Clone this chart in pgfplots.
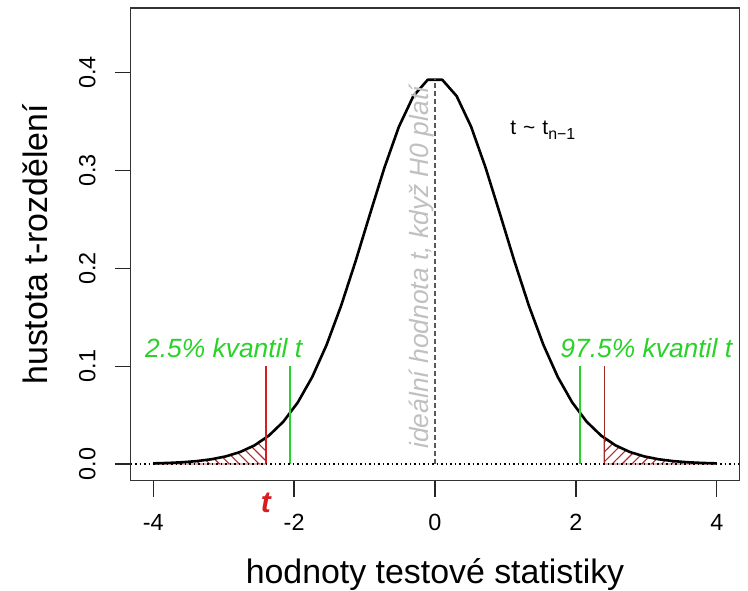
\documentclass[border=0pt]{standalone}
\usepackage{fontspec}
\setmainfont{Liberation Sans}
\usepackage{pgfplots}
\pgfplotsset{compat=1.18}
\usetikzlibrary{patterns.meta}
\definecolor{kvgreen}{RGB}{40,210,40}
\definecolor{tred}{RGB}{215,30,30}
\definecolor{tbrown}{RGB}{165,42,42}
\definecolor{hatch}{RGB}{175,45,45}
\definecolor{idealgray}{RGB}{192,192,192}
\begin{document}
\begin{tikzpicture}
\useasboundingbox (-130.7bp,-110.3bp) rectangle (617.3bp,480.7bp);
\begin{axis}[
  scale only axis,
  width=608.6bp, height=472.7bp,
  at={(0,0)}, anchor=south west,
  xmin=-4.32, xmax=4.32,
  ymin=-0.01707, ymax=0.46612,
  clip=false,
  axis line style={draw=black!80, line width=1.3bp},
  tick pos=left, tick align=outside,
  major tick length=16bp,
  tick style={black!85, line width=1.3bp},
  xtick={-4,-2,0,2,4}, xticklabels={-4,-2,0,2,4},
  ytick={0,0.1,0.2,0.3,0.4}, yticklabels={0.0,0.1,0.2,0.3,0.4},
  tick label style={font=\fontsize{23.5}{28}\selectfont, inner sep=0pt},
  xticklabel style={anchor=north},
  yticklabel style={rotate=90, anchor=south},
  xticklabel shift=17bp,
  yticklabel shift=19bp,
  xlabel={hodnoty testové statistiky},
  ylabel={hustota t-rozdělení},
  label style={font=\fontsize{34}{40}\selectfont, inner sep=0pt},
  xlabel style={at={(axis description cs:0.5,-0.2185)}, anchor=base},
  ylabel style={at={(axis description cs:-0.1375,0.5)}, anchor=base},
]

% hatched tails
\addplot[draw=hatch, line width=0.8bp,
  pattern={Lines[angle=-45, distance=7bp, line width=1.1bp]}, pattern color=hatch]
  coordinates {(-4,0) (-4,0.000636) (-3.794872,0.001067) (-3.589744,0.001776)
  (-3.384615,0.002930) (-3.179487,0.004779) (-2.974359,0.007692)
  (-2.769231,0.012192) (-2.564103,0.018984) (-2.4,0.026666) (-2.4,0)} -- cycle;
\addplot[draw=hatch, line width=0.8bp,
  pattern={Lines[angle=45, distance=7bp, line width=1.1bp]}, pattern color=hatch]
  coordinates {(2.4,0) (2.4,0.026666) (2.564103,0.018984) (2.769231,0.012192)
  (2.974359,0.007692) (3.179487,0.004779) (3.384615,0.002930)
  (3.589744,0.001776) (3.794872,0.001067) (4,0.000636) (4,0)} -- cycle;

% density of t with 25 df
\addplot[black, line width=2.6bp, line join=round] coordinates {
  (-4,0.000636) (-3.794872,0.001067) (-3.589744,0.001776) (-3.384615,0.002930)
  (-3.179487,0.004779) (-2.974359,0.007692) (-2.769231,0.012192) (-2.564103,0.018984)
  (-2.358974,0.028967) (-2.153846,0.043207) (-1.948718,0.062830) (-1.743590,0.088848)
  (-1.538462,0.121860) (-1.333333,0.161701) (-1.128205,0.207099) (-0.923077,0.255468)
  (-0.717949,0.302930) (-0.512821,0.344737) (-0.307692,0.376032) (-0.102564,0.392816)
  (0.102564,0.392816) (0.307692,0.376032) (0.512821,0.344737) (0.717949,0.302930)
  (0.923077,0.255468) (1.128205,0.207099) (1.333333,0.161701) (1.538462,0.121860)
  (1.743590,0.088848) (1.948718,0.062830) (2.153846,0.043207) (2.358974,0.028967)
  (2.564103,0.018984) (2.769231,0.012192) (2.974359,0.007692) (3.179487,0.004779)
  (3.384615,0.002930) (3.589744,0.001776) (3.794872,0.001067) (4,0.000636)
};

% quantiles and observed t
\addplot[kvgreen, line width=2.6bp] coordinates {(-2.0595,0) (-2.0595,0.1)};
\addplot[kvgreen, line width=2.6bp] coordinates {(2.0595,0) (2.0595,0.1)};
\addplot[tred, line width=2.4bp] coordinates {(-2.4,0) (-2.4,0.1)};
\addplot[tbrown, line width=1.1bp] coordinates {(2.4,0) (2.4,0.1)};

% zero line and centre
\addplot[black, line width=1.3bp, dash pattern=on 1.5bp off 3bp] coordinates {(-4.32,0) (4.32,0)};
\addplot[black!65, line width=1.3bp, dash pattern=on 5bp off 3bp] coordinates {(0,0) (0,0.394)};

\node[rotate=90, anchor=base, inner sep=0pt, text=idealgray,
  font=\fontsize{26.5}{30}\selectfont\itshape]
  at (axis cs:-0.088,0.2009) {ideální hodnota t, když H0 platí};

\node[anchor=base, inner sep=0pt, text=kvgreen, font=\fontsize{26.5}{30}\selectfont\itshape]
  at (axis cs:-3,0.1091) {2.5\% kvantil t};
\node[anchor=base, inner sep=0pt, text=kvgreen, font=\fontsize{26.5}{30}\selectfont\itshape]
  at (axis cs:3,0.1091) {97.5\% kvantil t};

\node[anchor=base west, inner sep=0pt, font=\fontsize{21}{24}\selectfont]
  at (axis cs:1.068,0.3363) {t\hspace{7bp}\textasciitilde\hspace{7bp}t\raisebox{-5bp}{\fontsize{16}{18}\selectfont n−1}};

\node[anchor=base, inner sep=0pt, text=tred, font=\fontsize{30}{34}\selectfont\bfseries\itshape]
  at (axis cs:-2.4,-0.0498) {t};
\end{axis}
\end{tikzpicture}
\end{document}
